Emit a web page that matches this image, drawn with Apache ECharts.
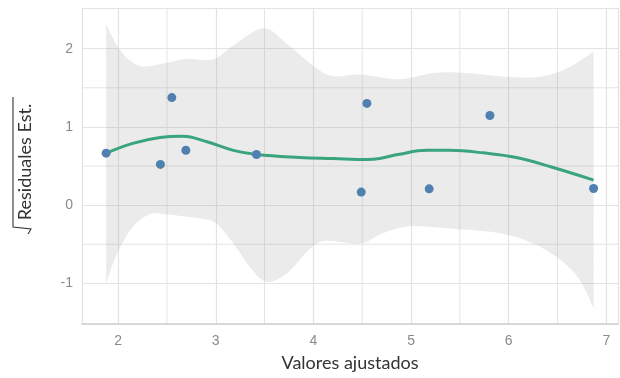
<!DOCTYPE html>
<html><head><meta charset="utf-8">
<script src="https://cdn.jsdelivr.net/npm/echarts@6/dist/echarts.min.js"></script>
<style>html,body{margin:0;padding:0;background:#fff}#c{width:620px;height:378px}</style>
</head><body><div id="c"></div>
<script>
// Observed points
const ptX = [1.877, 2.433, 2.55, 2.694, 3.417, 4.49, 4.548, 5.186, 5.808, 6.87];
const ptY = [0.664, 0.52, 1.375, 0.702, 0.647, 0.166, 1.30, 0.208, 1.146, 0.213];
// Smooth fit
const fitX = [1.877, 2.15, 2.43, 2.66, 2.91, 3.18, 3.42, 3.86, 4.20, 4.55, 4.68, 4.88, 5.16, 5.40, 5.74, 6.08, 6.43, 6.87];
const fitY = [0.664, 0.79, 0.865, 0.88, 0.81, 0.70, 0.647, 0.61, 0.596, 0.583, 0.596, 0.651, 0.70, 0.70, 0.668, 0.609, 0.49, 0.32];
// Confidence band
const bandHiX = [1.877, 2.02, 2.225, 2.5, 2.70, 2.97, 3.18, 3.49, 3.73, 4.0, 4.2, 4.48, 4.88, 5.23, 5.57, 5.98, 6.32, 6.6, 6.87];
const bandHi  = [2.32, 1.98, 1.78, 1.82, 1.87, 1.86, 2.04, 2.26, 2.06, 1.78, 1.65, 1.67, 1.61, 1.69, 1.69, 1.64, 1.64, 1.75, 1.96];
const bandLoX = [1.877, 1.99, 2.15, 2.33, 2.5, 2.84, 3.0, 3.18, 3.35, 3.52, 3.73, 3.93, 4.07, 4.2, 4.49, 4.71, 4.99, 5.40, 5.91, 6.25, 6.53, 6.73, 6.87];
const bandLo  = [-1.0, -0.62, -0.28, -0.115, -0.12, -0.17, -0.23, -0.49, -0.79, -0.98, -0.87, -0.60, -0.47, -0.46, -0.49, -0.36, -0.27, -0.30, -0.36, -0.49, -0.70, -0.96, -1.32];
// Minor grid positions
const xMinor = [2.5, 3.5, 4.5, 5.5, 6.5];
const yMinor = [-0.5, 0.5, 1.5];

const chart = echarts.init(document.getElementById('c'), null, {renderer: 'canvas'});
const gridColor = '#e3e3e3';

// Catmull-Rom spline through pixel points -> SVG path commands
function spline(p, start) {
  let d = start ? ('M' + p[0][0] + ',' + p[0][1]) : ('L' + p[0][0] + ',' + p[0][1]);
  for (let i = 0; i < p.length - 1; i++) {
    const p0 = p[i - 1] || p[i], p1 = p[i], p2 = p[i + 1], p3 = p[i + 2] || p[i + 1];
    const c1 = [p1[0] + (p2[0] - p0[0]) / 6, p1[1] + (p2[1] - p0[1]) / 6];
    const c2 = [p2[0] - (p3[0] - p1[0]) / 6, p2[1] - (p3[1] - p1[1]) / 6];
    d += 'C' + c1[0] + ',' + c1[1] + ',' + c2[0] + ',' + c2[1] + ',' + p2[0] + ',' + p2[1];
  }
  return d;
}

chart.setOption({
  animation: false,
  grid: {left: 82, right: 2, top: 8, bottom: 54},
  xAxis: {
    type: 'value', min: 1.63, max: 7.12,
    name: 'Valores ajustados', nameLocation: 'middle', nameGap: 30,
    nameTextStyle: {color: '#333', fontSize: 18, fontFamily: 'Lato'},
    axisLine: {show: true, onZero: false, lineStyle: {color: '#d0d0d0', width: 1.5}},
    axisTick: {show: false},
    axisLabel: {color: '#8a8a8a', fontSize: 14, fontFamily: 'Liberation Sans', margin: 10,
      showMinLabel: false, showMaxLabel: false,
      formatter: v => (Math.abs(v - Math.round(v)) < 1e-6 ? String(Math.round(v)) : '')},
    splitLine: {show: true, lineStyle: {color: gridColor, width: 1.2}},
    minorSplitLine: {show: false}
  },
  yAxis: {
    type: 'value', min: -1.52, max: 2.52,
    axisLine: {show: true, lineStyle: {color: '#e3e3e3'}},
    axisTick: {show: false},
    axisLabel: {color: '#8a8a8a', fontSize: 14, fontFamily: 'Liberation Sans', margin: 9,
      showMinLabel: false, showMaxLabel: false,
      formatter: v => (Math.abs(v - Math.round(v)) < 1e-6 ? String(Math.round(v)) : '')},
    splitLine: {show: true, lineStyle: {color: gridColor, width: 1.2}},
    minorSplitLine: {show: false}
  },
  graphic: [
    {type: 'text', x: 25, y: 162, rotation: Math.PI / 2, style: {text: 'Residuales Est.', fill: '#333', font: '18px Lato', textAlign: 'center', textVerticalAlign: 'middle'}},
    {type: 'polyline', shape: {points: [[13, 97], [13, 227], [31, 229], [28, 234]]}, style: {stroke: '#333', lineWidth: 1.1, fill: null}}
  ],
  series: [
    {
      type: 'custom', silent: true, z: 0,
      data: [[xMinor[0], yMinor[0]]],
      renderItem: function (params, api) {
        const children = [];
        const c0 = api.coord([1.63, -1.52]), c1 = api.coord([7.12, 2.52]);
        xMinor.forEach(x => { const p = api.coord([x, 0]); children.push({type: 'line', shape: {x1: p[0], y1: c0[1], x2: p[0], y2: c1[1]}, style: {stroke: gridColor, lineWidth: 1}}); });
        yMinor.forEach(y => { const p = api.coord([0, y]); children.push({type: 'line', shape: {x1: c0[0], y1: p[1], x2: c1[0], y2: p[1]}, style: {stroke: gridColor, lineWidth: 1}}); });
        return {type: 'group', children: children};
      }
    },
    {
      type: 'custom', silent: true, z: 1,
      data: [[bandHiX[0], bandHi[0]]],
      renderItem: function (params, api) {
        const hi = bandHiX.map((x, i) => api.coord([x, bandHi[i]]));
        const lo = bandLoX.map((x, i) => api.coord([x, bandLo[i]])).reverse();
        const d = spline(hi, true) + spline(lo, false) + 'Z';
        return {type: 'path', shape: {pathData: d}, style: {fill: 'rgba(153,153,153,0.2)', stroke: null}};
      }
    },
    {
      type: 'line', z: 3, data: fitX.map((x, i) => [x, fitY[i]]),
      smooth: 0.4, showSymbol: false, lineStyle: {color: '#3aa57d', width: 3}
    },
    {
      type: 'scatter', z: 4, data: ptX.map((x, i) => [x, ptY[i]]),
      symbolSize: 9, itemStyle: {color: '#4f80b0', opacity: 1}
    }
  ]
});
</script></body></html>
